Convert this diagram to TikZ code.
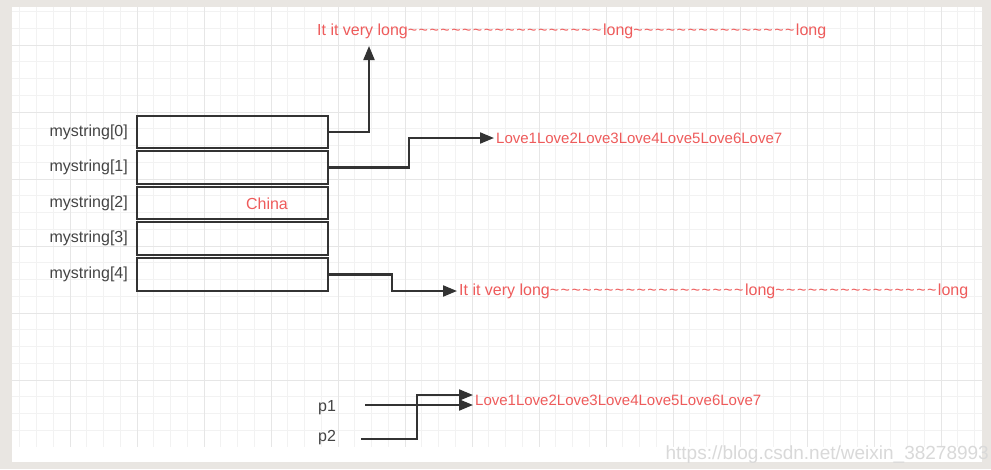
\documentclass[tikz,border=0pt]{standalone}
\usepackage{fontspec}
\setmainfont{Liberation Sans}
\usetikzlibrary{arrows.meta}
\definecolor{txtred}{HTML}{EE5B5B}
\definecolor{lblgray}{HTML}{444444}
\definecolor{framebg}{HTML}{E9E6E2}
\definecolor{gridminor}{HTML}{F2F2F2}
\definecolor{gridmajor}{HTML}{E6E6E6}
\tikzstyle{cell}=[draw=black!80,line width=2.1pt,minimum width=191pt,minimum height=32.5pt,inner sep=0pt]
\tikzstyle{lbl}=[text=lblgray,font=\fontsize{16}{18}\selectfont,inner sep=2pt]
\tikzstyle{val}=[text=txtred,font=\fontsize{16}{18}\selectfont,inner sep=2pt]
\tikzstyle{arr}=[draw=black!80,line width=2.1pt,-{Triangle[length=14pt,width=11pt]}]
\newcommand\wave[1]{\foreach\n in {1,...,#1}{\textasciitilde\kern1.5pt}}

\begin{document}
\begin{tikzpicture}[x=1pt,y=-1pt]
\useasboundingbox (0,0) rectangle (991,469);
% frame and grid
\fill[framebg] (0,0) rectangle (991,469);
\fill[white] (12,7) rectangle (982,462);
\begin{scope}
\clip (12,7) rectangle (982,446);
\foreach \k in {-4,...,55} \draw[gridminor,line width=0.8pt] ({70+\k*16.75},0) -- ({70+\k*16.75},469);
\foreach \k in {-3,...,26} \draw[gridminor,line width=0.8pt] (0,{45+\k*16.75}) -- (991,{45+\k*16.75});
\foreach \k in {-1,...,14} \draw[gridmajor,line width=0.9pt] ({70+\k*67},0) -- ({70+\k*67},469);
\foreach \k in {-1,...,7} \draw[gridmajor,line width=0.9pt] (0,{45+\k*67}) -- (991,{45+\k*67});
\end{scope}
% array cells
\node[cell] (c0) at (232.5,132) {};
\node[cell] (c1) at (232.5,167.5) {};
\node[cell] (c2) at (232.5,203) {};
\node[cell] (c3) at (232.5,238.5) {};
\node[cell] (c4) at (232.5,274.5) {};
\node[lbl,anchor=east] (l0) at (130,132) {mystring[0]};
\node[lbl,anchor=east] (l1) at (130,167.5) {mystring[1]};
\node[lbl,anchor=east] (l2) at (130,203) {mystring[2]};
\node[lbl,anchor=east] (l3) at (130,238.5) {mystring[3]};
\node[lbl,anchor=east] (l4) at (130,274.5) {mystring[4]};
\node[val] (china) at (267,204) {China};
% strings
\node[val,anchor=west] (t0) at (315,31) {It it very long\wave{18}long\wave{15}long};
\node[val,anchor=west,font=\fontsize{15}{17}\selectfont] (t1) at (494,138) {Love1Love2Love3Love4Love5Love6Love7};
\node[val,anchor=west] (t4) at (457,291) {It it very long\wave{18}long\wave{15}long};
\node[val,anchor=west,font=\fontsize{15}{17}\selectfont] (t5) at (473,400) {Love1Love2Love3Love4Love5Love6Love7};
% pointers
\node[lbl] (p1) at (327,408) {p1};
\node[lbl] (p2) at (327,438) {p2};
\coordinate (k0) at (369,46);
\coordinate (s1) at (365,405);
\coordinate (s2) at (361,439);
\draw[arr] (c0.east) -| (k0);
\draw[arr] (c1.east) -- ++(80,0) |- (t1.west);
\draw[arr] (c4.east) -- ++(63,0) |- (t4.west);
\draw[arr] (s1) -- (s1 -| t5.west);
\draw[arr] (s2) -- ++(56,0) |- ([yshift=5pt]t5.west);
% watermark
\node[text=gray!30,font=\fontsize{19}{21}\selectfont,anchor=east,inner sep=0pt] (wm) at (989,455) {https://blog.csdn.net/weixin\_38278993};
\end{tikzpicture}
\end{document}
